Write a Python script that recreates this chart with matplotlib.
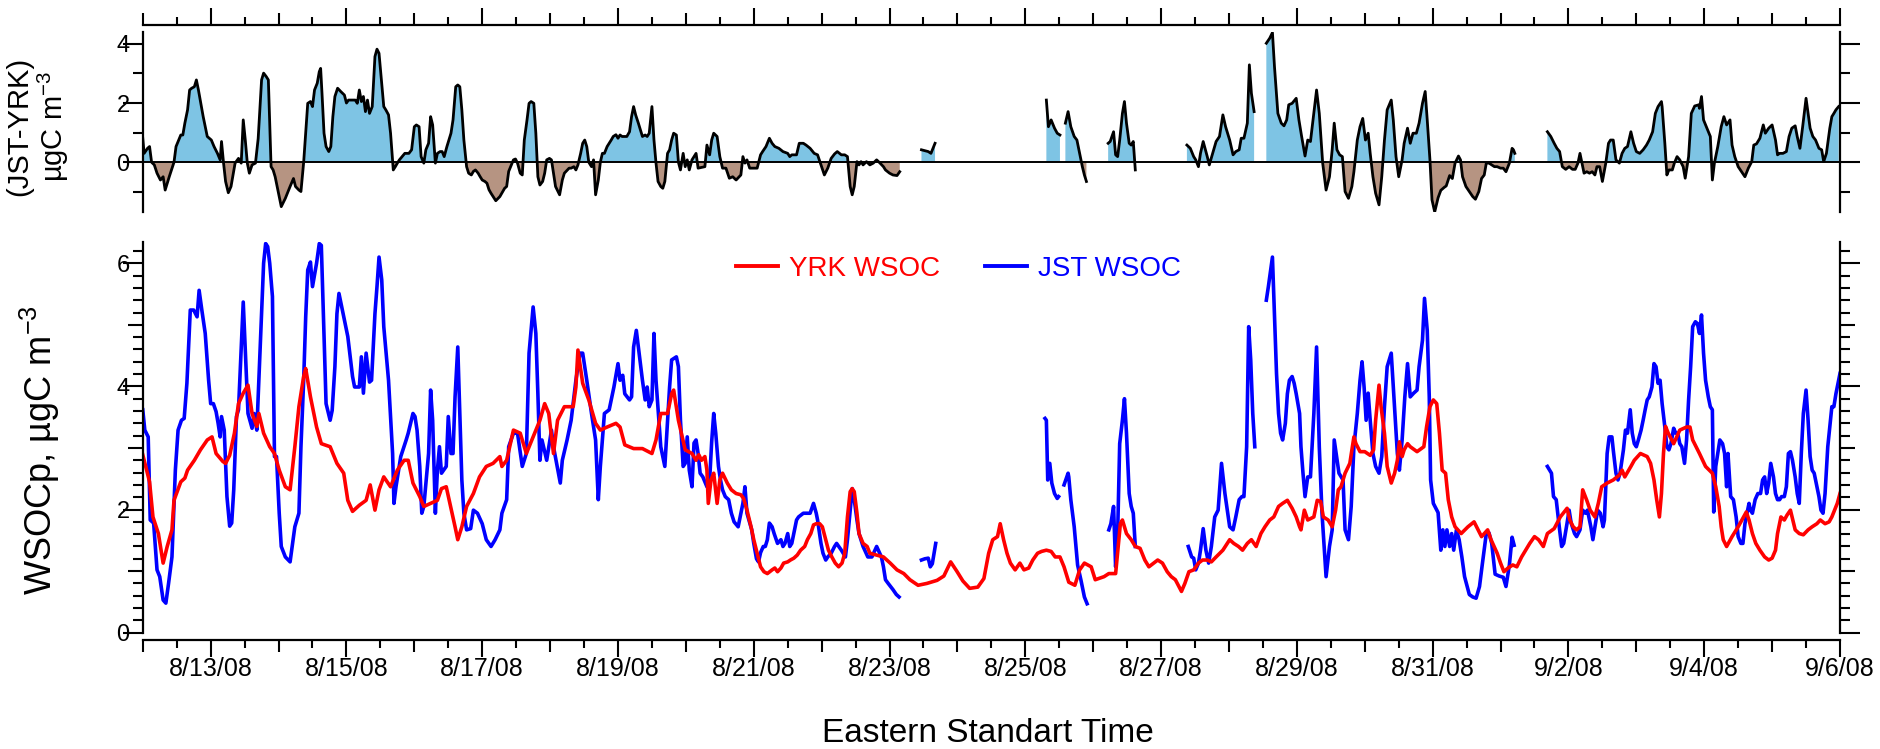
"""
WSOC at YRK and JST, summer 2008, plus the JST-YRK difference
"""

import datetime

import numpy as np
import matplotlib
matplotlib.use("Agg")
import matplotlib.pyplot as plt
import matplotlib.dates as mdates
from matplotlib.ticker import FixedLocator, FuncFormatter
from matplotlib.lines import Line2D

plt.rcParams["font.family"] = ["Liberation Sans", "DejaVu Sans"]
plt.rcParams["mathtext.fontset"] = "custom"
plt.rcParams["mathtext.rm"] = "Liberation Sans"
plt.rcParams["mathtext.default"] = "regular"

START = datetime.datetime(2008, 8, 12)
END = datetime.datetime(2008, 9, 6)
FIRST_LABEL = datetime.datetime(2008, 8, 13)
nan = float("nan")

# (days since 8/12/08 00:00, ugC m-3)
yrk_wsoc = [
    (0.00, 2.89), (0.10, 2.45), (0.15, 1.88), (0.23, 1.61), (0.30, 1.13), (0.36, 1.40), (0.43, 1.67),
    (0.46, 2.15), (0.56, 2.45), (0.62, 2.51), (0.66, 2.64), (0.76, 2.80), (0.85, 2.97), (0.95, 3.13),
    (1.02, 3.18), (1.08, 2.91), (1.18, 2.78), (1.22, 2.75), (1.28, 2.88), (1.35, 3.24), (1.41, 3.72),
    (1.48, 3.89), (1.55, 4.02), (1.61, 3.56), (1.68, 3.35), (1.71, 3.56), (1.78, 3.24), (1.87, 3.02),
    (1.94, 2.91), (2.01, 2.64), (2.10, 2.37), (2.17, 2.32), (2.24, 3.02), (2.30, 3.67), (2.37, 4.16),
    (2.40, 4.29), (2.47, 3.83), (2.56, 3.34), (2.63, 3.07), (2.76, 3.02), (2.86, 2.75), (2.96, 2.59),
    (3.02, 2.15), (3.09, 1.97), (3.19, 2.07), (3.29, 2.15), (3.35, 2.40), (3.42, 1.99), (3.48, 2.32),
    (3.55, 2.53), (3.65, 2.37), (3.75, 2.64), (3.85, 2.80), (3.91, 2.80), (3.98, 2.43), (4.08, 2.21),
    (4.14, 2.05), (4.24, 2.10), (4.34, 2.15), (4.40, 2.34), (4.47, 2.37), (4.54, 2.02), (4.60, 1.72),
    (4.64, 1.51), (4.70, 1.72), (4.77, 2.05), (4.87, 2.26), (4.96, 2.53), (5.06, 2.70), (5.16, 2.75),
    (5.26, 2.86), (5.29, 2.70), (5.36, 2.80), (5.46, 3.29), (5.56, 3.24), (5.65, 2.91), (5.75, 3.18),
    (5.85, 3.45), (5.92, 3.72), (5.98, 3.56), (6.05, 2.91), (6.11, 3.45), (6.21, 3.67), (6.34, 3.67),
    (6.38, 3.99), (6.41, 4.59), (6.48, 4.05), (6.57, 3.78), (6.67, 3.40), (6.74, 3.29), (6.84, 3.34),
    (6.97, 3.40), (7.03, 3.34), (7.10, 3.05), (7.23, 2.99), (7.36, 2.99), (7.50, 2.91), (7.56, 3.13),
    (7.63, 3.56), (7.73, 3.56), (7.79, 3.88), (7.82, 3.94), (7.89, 3.45), (7.99, 2.97), (8.09, 2.91),
    (8.15, 2.80), (8.19, 2.89), (8.23, 2.80), (8.28, 2.86), (8.31, 2.64), (8.33, 2.10), (8.37, 2.48),
    (8.41, 2.59), (8.46, 2.10), (8.50, 2.48), (8.54, 2.59), (8.61, 2.43), (8.67, 2.32), (8.74, 2.26),
    (8.81, 2.24), (8.85, 2.18), (8.90, 1.99), (8.96, 1.72), (9.00, 1.51), (9.05, 1.29), (9.10, 1.07),
    (9.15, 0.99), (9.20, 0.96), (9.27, 1.02), (9.31, 1.05), (9.35, 0.99), (9.40, 1.05), (9.44, 1.13),
    (9.50, 1.15), (9.54, 1.18), (9.59, 1.21), (9.64, 1.26), (9.69, 1.34), (9.75, 1.40), (9.79, 1.51),
    (9.84, 1.61), (9.88, 1.75), (9.92, 1.77), (9.97, 1.77), (10.01, 1.72), (10.06, 1.51), (10.10, 1.34),
    (10.15, 1.23), (10.20, 1.13), (10.25, 1.07), (10.30, 1.13), (10.34, 1.29), (10.38, 1.88), (10.42, 2.29),
    (10.45, 2.34), (10.48, 2.29), (10.52, 1.94), (10.55, 1.61), (10.61, 1.45), (10.67, 1.40), (10.71, 1.29),
    (10.81, 1.26), (10.91, 1.23), (11.01, 1.13), (11.11, 1.02), (11.21, 0.96), (11.30, 0.86), (11.42, 0.77),
    (11.55, 0.80), (11.70, 0.85), (11.80, 0.92), (11.90, 1.15), (11.99, 1.00), (12.08, 0.84), (12.18, 0.72),
    (12.30, 0.74), (12.39, 0.88), (12.46, 1.29), (12.52, 1.51), (12.59, 1.56), (12.63, 1.77), (12.68, 1.51),
    (12.73, 1.29), (12.78, 1.13), (12.85, 1.02), (12.92, 1.13), (12.98, 1.02), (13.05, 1.05), (13.11, 1.18),
    (13.18, 1.29), (13.24, 1.32), (13.31, 1.34), (13.38, 1.32), (13.44, 1.23), (13.51, 1.23), (13.57, 1.07),
    (13.64, 0.82), (13.73, 0.77), (13.80, 1.02), (13.87, 1.13), (13.97, 1.07), (14.03, 0.86), (14.16, 0.91),
    (14.23, 0.96), (14.33, 0.96), (14.36, 1.30), (14.40, 1.77), (14.43, 1.83), (14.49, 1.61), (14.56, 1.51),
    (14.62, 1.40), (14.69, 1.37), (14.76, 1.18), (14.82, 1.07), (14.89, 1.13), (14.95, 1.18), (15.02, 1.13),
    (15.09, 0.99), (15.15, 0.91), (15.21, 0.86), (15.30, 0.67), (15.35, 0.80), (15.41, 0.99), (15.48, 1.02),
    (15.55, 1.13), (15.61, 1.18), (15.68, 1.18), (15.74, 1.15), (15.81, 1.23), (15.91, 1.34), (16.01, 1.51),
    (16.07, 1.45), (16.14, 1.40), (16.20, 1.34), (16.27, 1.45), (16.33, 1.51), (16.40, 1.40), (16.47, 1.61),
    (16.53, 1.72), (16.60, 1.83), (16.66, 1.88), (16.73, 2.05), (16.79, 2.10), (16.86, 2.15), (16.93, 2.02),
    (16.99, 1.88), (17.04, 1.72), (17.06, 1.67), (17.11, 1.99), (17.16, 1.83), (17.25, 1.88), (17.30, 2.15),
    (17.35, 2.13), (17.39, 1.88), (17.46, 1.83), (17.52, 1.72), (17.57, 1.99), (17.61, 2.32), (17.65, 2.37),
    (17.71, 2.59), (17.78, 2.75), (17.84, 3.18), (17.87, 3.07), (17.93, 2.94), (18.00, 2.94), (18.08, 2.88),
    (18.13, 2.97), (18.16, 3.45), (18.21, 4.02), (18.24, 3.67), (18.29, 3.24), (18.33, 2.70), (18.39, 2.43),
    (18.44, 2.59), (18.48, 2.80), (18.51, 3.10), (18.55, 2.86), (18.58, 2.97), (18.63, 3.07), (18.67, 3.02),
    (18.77, 2.94), (18.87, 3.02), (18.91, 3.34), (18.96, 3.67), (19.01, 3.78), (19.06, 3.72), (19.10, 3.24),
    (19.14, 2.64), (19.19, 2.59), (19.23, 2.16), (19.28, 1.88), (19.33, 1.72), (19.42, 1.61), (19.52, 1.72),
    (19.61, 1.80), (19.72, 1.56), (19.81, 1.67), (19.86, 1.51), (19.95, 1.29), (20.00, 1.13), (20.05, 0.99),
    (20.11, 1.05), (20.18, 1.10), (20.24, 1.07), (20.31, 1.23), (20.37, 1.34), (20.43, 1.45), (20.50, 1.56),
    (20.56, 1.51), (20.63, 1.40), (20.69, 1.61), (20.79, 1.69), (20.88, 1.88), (20.98, 2.02), (21.02, 1.83),
    (21.07, 1.72), (21.12, 1.67), (21.17, 1.72), (21.21, 2.32), (21.27, 2.15), (21.32, 1.99), (21.39, 1.88),
    (21.44, 2.10), (21.49, 2.37), (21.57, 2.43), (21.66, 2.48), (21.75, 2.56), (21.79, 2.64), (21.83, 2.53),
    (21.92, 2.70), (21.97, 2.80), (22.06, 2.91), (22.16, 2.86), (22.21, 2.75), (22.26, 2.48), (22.30, 2.16),
    (22.34, 1.88), (22.37, 2.26), (22.40, 2.91), (22.43, 3.35), (22.47, 3.24), (22.55, 3.07), (22.64, 3.29),
    (22.74, 3.34), (22.79, 3.34), (22.83, 3.13), (22.93, 2.91), (23.02, 2.70), (23.12, 2.59), (23.17, 2.37),
    (23.22, 2.05), (23.25, 1.72), (23.28, 1.51), (23.33, 1.40), (23.41, 1.56), (23.50, 1.72), (23.62, 1.96),
    (23.66, 1.83), (23.71, 1.61), (23.76, 1.45), (23.82, 1.34), (23.89, 1.23), (23.95, 1.18), (24.00, 1.21),
    (24.05, 1.34), (24.08, 1.61), (24.13, 1.88), (24.18, 1.83), (24.22, 1.91), (24.27, 1.99), (24.34, 1.67),
    (24.40, 1.61), (24.46, 1.59), (24.53, 1.67), (24.59, 1.72), (24.66, 1.77), (24.71, 1.83), (24.78, 1.77),
    (24.84, 1.80), (24.88, 1.88), (24.92, 1.99), (24.96, 2.10), (25.00, 2.26),
]

# JST has holes in it (nan = no data)
jst_wsoc = [
    (0.00, 3.62), (0.03, 3.29), (0.08, 3.18), (0.11, 1.83), (0.16, 1.78), (0.21, 1.02), (0.25, 0.91),
    (0.30, 0.53), (0.34, 0.48), (0.38, 0.80), (0.43, 1.23), (0.48, 2.64), (0.52, 3.29), (0.57, 3.45),
    (0.61, 3.48), (0.65, 4.05), (0.70, 5.24), (0.75, 5.24), (0.80, 5.13), (0.83, 5.56), (0.87, 5.24),
    (0.92, 4.86), (0.97, 4.10), (1.00, 3.72), (1.04, 3.72), (1.08, 3.59), (1.11, 3.40), (1.14, 3.18),
    (1.16, 3.51), (1.20, 3.29), (1.24, 2.21), (1.28, 1.73), (1.31, 1.78), (1.34, 2.32), (1.38, 3.51),
    (1.41, 3.62), (1.48, 5.37), (1.55, 3.56), (1.61, 3.32), (1.64, 3.56), (1.68, 3.29), (1.71, 4.10),
    (1.78, 6.00), (1.81, 6.32), (1.84, 6.27), (1.87, 6.00), (1.91, 5.46), (1.94, 2.86), (1.97, 2.86),
    (2.01, 1.94), (2.04, 1.40), (2.10, 1.23), (2.17, 1.15), (2.24, 1.72), (2.30, 1.94), (2.33, 3.02),
    (2.37, 4.10), (2.40, 5.13), (2.43, 5.89), (2.47, 6.02), (2.50, 5.62), (2.56, 6.00), (2.60, 6.32),
    (2.63, 6.29), (2.66, 5.18), (2.70, 3.72), (2.76, 3.45), (2.79, 3.61), (2.83, 4.32), (2.86, 5.18),
    (2.89, 5.51), (2.96, 5.13), (3.02, 4.81), (3.09, 4.16), (3.12, 3.99), (3.19, 3.99), (3.22, 4.48),
    (3.25, 3.89), (3.29, 4.54), (3.34, 4.07), (3.37, 4.10), (3.42, 5.18), (3.45, 5.62), (3.48, 6.10),
    (3.52, 5.73), (3.55, 4.97), (3.62, 4.10), (3.68, 2.91), (3.70, 2.10), (3.73, 2.37), (3.80, 2.86),
    (3.88, 3.13), (3.91, 3.24), (3.98, 3.56), (4.01, 3.51), (4.04, 3.29), (4.08, 2.70), (4.11, 1.94),
    (4.14, 2.05), (4.21, 2.91), (4.24, 3.94), (4.27, 3.45), (4.31, 1.94), (4.34, 2.64), (4.37, 3.02),
    (4.40, 2.59), (4.47, 2.70), (4.50, 3.51), (4.54, 2.91), (4.57, 2.91), (4.60, 3.83), (4.64, 4.64),
    (4.67, 3.56), (4.70, 2.48), (4.73, 1.94), (4.77, 1.67), (4.83, 1.69), (4.87, 1.99), (4.93, 1.94),
    (5.00, 1.77), (5.06, 1.51), (5.13, 1.40), (5.19, 1.51), (5.26, 1.67), (5.29, 1.94), (5.36, 2.16),
    (5.39, 3.02), (5.46, 3.24), (5.52, 3.24), (5.59, 2.70), (5.65, 2.91), (5.69, 4.54), (5.75, 5.29),
    (5.79, 4.86), (5.82, 3.88), (5.85, 2.80), (5.88, 3.13), (5.95, 2.80), (6.02, 3.29), (6.05, 3.02),
    (6.15, 2.43), (6.18, 2.80), (6.25, 3.13), (6.31, 3.45), (6.38, 4.10), (6.44, 4.54), (6.48, 4.54),
    (6.54, 4.10), (6.61, 3.56), (6.67, 3.13), (6.71, 2.16), (6.74, 2.70), (6.80, 3.56), (6.87, 3.62),
    (6.94, 3.99), (7.00, 4.37), (7.03, 4.10), (7.07, 4.18), (7.10, 3.88), (7.17, 3.78), (7.20, 3.83),
    (7.23, 4.64), (7.27, 4.91), (7.30, 4.64), (7.36, 4.10), (7.40, 3.78), (7.43, 3.99), (7.46, 3.67),
    (7.50, 3.78), (7.53, 4.86), (7.56, 4.10), (7.63, 3.02), (7.69, 2.70), (7.76, 3.99), (7.79, 4.43),
    (7.86, 4.48), (7.89, 4.32), (7.92, 3.45), (7.96, 2.70), (7.99, 2.75), (8.02, 3.18), (8.05, 2.64),
    (8.09, 2.37), (8.12, 3.08), (8.15, 3.13), (8.18, 2.91), (8.21, 2.59), (8.25, 2.53), (8.31, 2.37),
    (8.35, 2.48), (8.38, 3.10), (8.41, 3.56), (8.44, 3.24), (8.48, 2.70), (8.51, 2.48), (8.54, 2.32),
    (8.58, 2.21), (8.63, 2.16), (8.67, 1.94), (8.71, 1.80), (8.77, 1.72), (8.81, 1.94), (8.84, 2.10),
    (8.87, 2.37), (8.90, 1.94), (8.97, 1.67), (9.00, 1.45), (9.04, 1.20), (9.07, 1.15), (9.10, 1.30),
    (9.14, 1.40), (9.17, 1.40), (9.20, 1.51), (9.23, 1.78), (9.27, 1.72), (9.30, 1.61), (9.35, 1.45),
    (9.40, 1.51), (9.43, 1.40), (9.46, 1.45), (9.50, 1.61), (9.53, 1.40), (9.56, 1.45), (9.63, 1.83),
    (9.66, 1.88), (9.73, 1.94), (9.83, 1.94), (9.88, 2.10), (9.92, 1.94), (9.94, 1.83), (9.99, 1.45),
    (10.02, 1.29), (10.06, 1.18), (10.09, 1.23), (10.14, 1.29), (10.19, 1.40), (10.22, 1.45), (10.29, 1.34),
    (10.35, 1.23), (10.38, 1.51), (10.42, 1.99), (10.45, 2.34), (10.48, 2.16), (10.52, 1.83), (10.55, 1.61),
    (10.61, 1.40), (10.68, 1.23), (10.74, 1.23), (10.81, 1.40), (10.88, 1.23), (10.91, 1.07), (10.94, 0.86),
    (10.98, 0.80), (11.05, 0.70), (11.10, 0.62), (11.14, 0.58),
    (11.30, nan),
    (11.47, 1.18), (11.52, 1.20), (11.57, 1.21), (11.60, 1.07), (11.63, 1.12), (11.68, 1.45),
    (12.50, nan),
    (13.29, 3.48), (13.31, 3.45), (13.33, 2.48), (13.36, 2.75), (13.39, 2.43), (13.43, 2.26), (13.47, 2.18),
    (13.49, 2.21),
    (13.53, nan),
    (13.57, 2.40), (13.63, 2.59), (13.64, 2.53), (13.67, 2.16), (13.72, 1.72), (13.77, 1.10), (13.82, 0.85),
    (13.87, 0.58), (13.91, 0.47),
    (14.05, nan),
    (14.23, 1.67), (14.26, 1.77), (14.30, 2.05), (14.33, 1.07), (14.36, 1.61), (14.39, 3.07), (14.43, 3.45),
    (14.46, 3.80), (14.49, 3.24), (14.53, 2.26), (14.56, 2.05), (14.59, 1.94), (14.62, 1.40),
    (15.00, nan),
    (15.40, 1.40), (15.45, 1.23), (15.48, 1.21), (15.51, 1.02), (15.55, 1.13), (15.58, 1.34), (15.62, 1.69),
    (15.66, 1.34), (15.70, 1.13), (15.74, 1.40), (15.79, 1.88), (15.84, 1.99), (15.89, 2.75), (15.94, 2.26),
    (16.01, 1.72), (16.06, 1.67), (16.10, 1.88), (16.15, 2.16), (16.19, 2.21), (16.22, 2.21), (16.26, 3.02),
    (16.29, 4.97), (16.32, 4.43), (16.35, 3.56), (16.38, 3.02),
    (16.47, nan),
    (16.55, 5.40), (16.58, 5.62), (16.62, 5.94), (16.64, 6.10), (16.66, 5.46), (16.70, 4.21), (16.73, 3.56),
    (16.76, 3.24), (16.79, 3.13), (16.83, 3.40), (16.86, 3.88), (16.89, 4.10), (16.93, 4.16), (16.96, 4.05),
    (16.99, 3.88), (17.04, 3.56), (17.06, 3.02), (17.09, 2.59), (17.12, 2.21), (17.16, 2.53), (17.20, 2.53),
    (17.25, 3.56), (17.29, 4.64), (17.33, 3.02), (17.37, 1.94), (17.43, 0.91), (17.48, 1.40), (17.52, 1.67),
    (17.55, 3.13), (17.62, 2.59), (17.68, 2.48), (17.71, 1.67), (17.76, 1.51), (17.80, 2.05), (17.84, 3.02),
    (17.89, 3.56), (17.93, 4.10), (17.96, 4.40), (17.99, 3.99), (18.02, 3.45), (18.05, 3.89), (18.08, 3.45),
    (18.12, 2.91), (18.16, 2.70), (18.21, 2.59), (18.25, 2.86), (18.29, 3.67), (18.33, 4.32), (18.39, 4.54),
    (18.44, 3.62), (18.48, 2.91), (18.51, 2.64), (18.55, 3.13), (18.59, 3.83), (18.63, 4.37), (18.67, 3.83),
    (18.72, 3.89), (18.77, 3.94), (18.80, 4.32), (18.85, 4.75), (18.88, 5.43), (18.92, 4.91), (18.95, 3.83),
    (18.97, 2.48), (19.01, 2.10), (19.08, 1.95), (19.12, 1.34), (19.15, 1.67), (19.18, 1.40), (19.21, 1.67),
    (19.25, 1.40), (19.28, 1.61), (19.31, 1.34), (19.35, 1.67), (19.39, 1.51), (19.43, 1.23), (19.47, 0.91),
    (19.54, 0.62), (19.59, 0.58), (19.64, 0.56), (19.69, 0.75), (19.73, 1.10), (19.79, 1.61), (19.83, 1.62),
    (19.87, 1.45), (19.92, 0.95), (19.98, 0.92), (20.04, 0.90), (20.08, 0.75), (20.13, 1.10), (20.17, 1.55),
    (20.20, 1.42),
    (20.45, nan),
    (20.69, 2.70), (20.75, 2.59), (20.78, 2.21), (20.82, 2.16), (20.87, 1.67), (20.90, 1.40), (20.93, 1.45),
    (20.98, 1.78), (21.01, 1.99), (21.04, 1.78), (21.09, 1.61), (21.12, 1.56), (21.17, 1.67), (21.21, 1.99),
    (21.25, 1.94), (21.28, 1.99), (21.33, 1.72), (21.36, 1.51), (21.39, 1.72), (21.43, 1.99), (21.47, 1.94),
    (21.51, 1.72), (21.53, 1.83), (21.57, 2.91), (21.60, 3.18), (21.64, 3.18), (21.66, 2.97), (21.70, 2.59),
    (21.73, 2.48), (21.76, 2.59), (21.81, 2.97), (21.84, 3.29), (21.87, 3.24), (21.91, 3.62), (21.94, 3.24),
    (21.97, 3.07), (22.00, 3.02), (22.03, 3.13), (22.07, 3.29), (22.10, 3.45), (22.13, 3.62), (22.16, 3.78),
    (22.19, 3.83), (22.23, 3.99), (22.26, 4.37), (22.29, 4.32), (22.32, 4.05), (22.35, 4.10), (22.38, 3.72),
    (22.42, 3.34), (22.45, 3.02), (22.48, 2.97), (22.51, 3.07), (22.55, 3.32), (22.58, 3.24), (22.61, 3.24),
    (22.64, 3.07), (22.67, 3.02), (22.71, 2.75), (22.74, 3.13), (22.77, 3.78), (22.80, 4.32), (22.83, 4.97),
    (22.87, 5.05), (22.90, 5.02), (22.93, 4.86), (22.96, 5.16), (22.99, 4.54), (23.02, 4.10), (23.06, 3.83),
    (23.09, 3.67), (23.12, 3.62), (23.14, 1.96), (23.17, 2.70), (23.20, 2.91), (23.23, 3.13), (23.27, 3.07),
    (23.30, 2.91), (23.33, 2.37), (23.35, 2.91), (23.39, 2.21), (23.43, 2.16), (23.47, 1.88), (23.50, 1.56),
    (23.54, 1.45), (23.57, 1.45), (23.60, 1.77), (23.63, 1.94), (23.66, 2.10), (23.68, 1.99), (23.71, 1.94),
    (23.75, 2.16), (23.79, 2.26), (23.83, 2.26), (23.86, 2.48), (23.89, 2.53), (23.92, 2.26), (23.95, 2.43),
    (23.98, 2.75), (24.02, 2.53), (24.05, 2.26), (24.08, 2.16), (24.11, 2.16), (24.14, 2.21), (24.18, 2.21),
    (24.21, 2.37), (24.24, 2.91), (24.27, 2.94), (24.30, 2.80), (24.34, 2.53), (24.37, 2.26), (24.40, 2.10),
    (24.43, 2.91), (24.46, 3.56), (24.50, 3.94), (24.53, 3.45), (24.56, 2.86), (24.59, 2.64), (24.62, 2.59),
    (24.66, 2.37), (24.69, 2.21), (24.72, 1.99), (24.75, 1.94), (24.78, 2.26), (24.82, 3.02), (24.85, 3.34),
    (24.88, 3.67), (24.91, 3.67), (24.94, 3.88), (24.98, 4.10), (25.00, 4.21),
]

# JST-YRK as drawn in the upper panel
jst_minus_yrk = [
    (0.00, 0.81), (0.02, 0.30), (0.07, 0.47), (0.10, 0.53), (0.13, 0.00), (0.17, -0.09), (0.21, -0.37),
    (0.26, -0.60), (0.30, -0.49), (0.33, -0.94), (0.39, -0.49), (0.46, 0.00), (0.49, 0.53), (0.53, 0.75),
    (0.56, 0.92), (0.59, 0.92), (0.62, 1.32), (0.66, 1.77), (0.69, 2.44), (0.72, 2.50), (0.76, 2.55),
    (0.79, 2.78), (0.82, 2.44), (0.89, 1.54), (0.95, 0.87), (1.01, 0.75), (1.05, 0.53), (1.10, 0.30),
    (1.14, 0.08), (1.16, 0.70), (1.19, -0.03), (1.22, -0.65), (1.26, -1.03), (1.30, -0.82), (1.36, -0.03),
    (1.41, 0.13), (1.45, -0.03), (1.48, 1.43), (1.51, 0.75), (1.54, -0.03), (1.57, -0.37), (1.61, -0.09),
    (1.66, -0.03), (1.70, 0.80), (1.75, 2.78), (1.78, 3.01), (1.82, 2.89), (1.85, 2.78), (1.89, -0.15),
    (1.92, -0.26), (1.95, -0.49), (2.00, -1.05), (2.04, -1.50), (2.10, -1.22), (2.17, -0.82), (2.22, -0.55),
    (2.25, -0.82), (2.30, -0.94), (2.33, -0.99), (2.37, 0.00), (2.43, 1.99), (2.47, 2.05), (2.50, 1.88),
    (2.53, 2.44), (2.57, 2.67), (2.60, 3.06), (2.62, 3.17), (2.64, 2.33), (2.67, 0.98), (2.70, 0.53),
    (2.74, 0.36), (2.77, 0.53), (2.80, 1.54), (2.83, 2.22), (2.87, 2.50), (2.92, 2.38), (2.97, 2.27),
    (3.00, 2.00), (3.03, 2.10), (3.06, 2.10), (3.13, 2.10), (3.16, 1.99), (3.19, 2.44), (3.22, 2.05),
    (3.25, 2.22), (3.28, 1.71), (3.31, 2.10), (3.34, 1.65), (3.38, 1.88), (3.42, 3.57), (3.45, 3.82),
    (3.48, 3.68), (3.55, 1.88), (3.58, 1.77), (3.62, 1.60), (3.65, 0.98), (3.69, -0.26), (3.72, -0.15),
    (3.75, -0.03), (3.78, 0.08), (3.82, 0.19), (3.86, 0.30), (3.92, 0.30), (3.96, 0.42), (4.00, 1.20),
    (4.03, 1.26), (4.07, 1.20), (4.10, 0.19), (4.14, -0.03), (4.17, 0.42), (4.21, 0.64), (4.24, 1.54),
    (4.27, 1.26), (4.31, -0.03), (4.34, 0.30), (4.38, 0.36), (4.41, 0.36), (4.44, 0.19), (4.48, 0.53),
    (4.51, 0.75), (4.54, 0.98), (4.57, 1.43), (4.61, 2.55), (4.64, 2.61), (4.67, 2.55), (4.70, 1.77),
    (4.73, 0.75), (4.77, -0.15), (4.80, -0.37), (4.84, -0.43), (4.87, -0.31), (4.90, -0.26), (4.94, -0.37),
    (4.97, -0.49), (5.00, -0.60), (5.04, -0.65), (5.07, -0.71), (5.10, -0.93), (5.13, -1.05), (5.20, -1.30),
    (5.26, -1.16), (5.33, -0.88), (5.36, -0.82), (5.39, -0.31), (5.46, 0.08), (5.49, 0.11), (5.52, -0.03),
    (5.56, -0.37), (5.59, -0.43), (5.62, 0.75), (5.66, 1.43), (5.69, 1.99), (5.72, 2.05), (5.76, 1.99),
    (5.79, 0.98), (5.82, -0.49), (5.85, -0.77), (5.89, -0.65), (5.92, -0.37), (5.95, 0.08), (5.99, 0.13),
    (6.02, 0.08), (6.05, -0.37), (6.08, -0.82), (6.14, -1.10), (6.18, -0.60), (6.21, -0.37), (6.28, -0.20),
    (6.31, -0.20), (6.35, -0.15), (6.38, -0.26), (6.41, -0.09), (6.45, 0.30), (6.48, 0.64), (6.51, 0.75),
    (6.54, 0.53), (6.57, 0.00), (6.61, -0.15), (6.64, 0.08), (6.67, -1.10), (6.71, -0.60), (6.74, 0.00),
    (6.77, 0.30), (6.80, 0.30), (6.84, 0.53), (6.90, 0.75), (6.93, 0.87), (6.97, 0.93), (7.00, 0.81),
    (7.03, 0.92), (7.06, 0.87), (7.13, 0.87), (7.17, 1.03), (7.20, 1.54), (7.23, 1.88), (7.26, 1.60),
    (7.30, 1.32), (7.33, 1.09), (7.36, 0.87), (7.40, 0.92), (7.43, 0.87), (7.46, 0.98), (7.50, 1.88),
    (7.53, 0.75), (7.56, -0.03), (7.59, -0.65), (7.63, -0.82), (7.66, -0.88), (7.69, -0.65), (7.73, 0.30),
    (7.76, 0.42), (7.79, 0.75), (7.82, 0.98), (7.86, 0.92), (7.89, 0.00), (7.92, -0.26), (7.96, 0.30),
    (7.99, -0.15), (8.02, 0.08), (8.05, -0.26), (8.09, 0.08), (8.15, 0.30), (8.18, -0.20), (8.28, -0.15),
    (8.31, 0.58), (8.35, 0.25), (8.38, 0.75), (8.41, 0.98), (8.46, 0.87), (8.50, 0.19), (8.54, -0.20),
    (8.59, -0.20), (8.64, -0.54), (8.69, -0.49), (8.74, -0.60), (8.81, -0.43), (8.84, 0.19), (8.87, -0.03),
    (8.90, 0.08), (8.94, -0.20), (9.00, -0.20), (9.05, -0.20), (9.10, 0.25), (9.13, 0.36), (9.18, 0.53),
    (9.23, 0.81), (9.27, 0.64), (9.31, 0.53), (9.37, 0.47), (9.43, 0.36), (9.50, 0.30), (9.53, 0.19),
    (9.56, 0.25), (9.63, 0.25), (9.67, 0.64), (9.73, 0.64), (9.77, 0.58), (9.83, 0.47), (9.89, 0.30),
    (9.94, 0.25), (9.99, -0.09), (10.04, -0.43), (10.09, -0.20), (10.14, 0.13), (10.19, 0.28), (10.23, 0.36),
    (10.29, 0.25), (10.34, 0.25), (10.38, 0.19), (10.42, -0.82), (10.45, -1.10), (10.48, -0.82), (10.52, 0.02),
    (10.55, -0.09), (10.58, 0.02), (10.61, -0.09), (10.66, 0.02), (10.71, -0.09), (10.76, -0.03), (10.81, 0.08),
    (10.86, -0.03), (10.91, -0.15), (10.94, -0.26), (11.00, -0.37), (11.05, -0.43), (11.11, -0.45), (11.15, -0.32),
    (11.30, nan),
    (11.47, 0.42), (11.52, 0.39), (11.57, 0.36), (11.61, 0.30), (11.67, 0.64),
    (12.50, nan),
    (13.31, 2.10), (13.34, 1.20), (13.38, 1.43), (13.43, 1.15), (13.47, 0.98), (13.51, 0.92),
    (13.55, nan),
    (13.59, 1.32), (13.63, 1.71), (13.67, 1.20), (13.72, 0.87), (13.76, 0.75), (13.80, 0.30), (13.84, -0.15),
    (13.87, -0.43), (13.90, -0.65),
    (14.05, nan),
    (14.22, 0.64), (14.25, 0.70), (14.30, 1.03), (14.33, 0.25), (14.36, 0.19), (14.39, 0.75), (14.43, 1.65),
    (14.46, 2.05), (14.49, 1.32), (14.53, 0.64), (14.56, 0.58), (14.59, 0.70), (14.62, -0.26),
    (15.00, nan),
    (15.38, 0.58), (15.43, 0.47), (15.48, 0.19), (15.51, 0.08), (15.55, -0.15), (15.58, 0.30), (15.62, 0.70),
    (15.68, 0.19), (15.71, -0.09), (15.76, 0.30), (15.81, 0.70), (15.86, 0.87), (15.91, 1.60), (15.95, 1.20),
    (16.01, 0.75), (16.06, 0.25), (16.10, 0.36), (16.15, 0.42), (16.18, 0.81), (16.22, 0.81), (16.27, 1.32),
    (16.30, 3.29), (16.33, 2.33), (16.37, 1.71),
    (16.46, nan),
    (16.55, 4.02), (16.60, 4.19), (16.64, 4.38), (16.67, 3.23), (16.72, 1.65), (16.77, 1.32), (16.81, 1.23),
    (16.85, 1.43), (16.88, 1.94), (16.93, 1.99), (16.97, 2.10), (16.99, 2.16), (17.03, 1.43), (17.07, 0.87),
    (17.12, 0.21), (17.16, 0.75), (17.20, 0.70), (17.25, 1.65), (17.29, 2.44), (17.33, 1.65), (17.38, -0.03),
    (17.43, -0.94), (17.48, -0.49), (17.52, 0.42), (17.55, 1.32), (17.59, 0.42), (17.63, 0.25), (17.67, 0.19),
    (17.71, -0.99), (17.76, -1.22), (17.81, -0.82), (17.84, -0.32), (17.89, 0.75), (17.93, 1.20), (17.97, 1.48),
    (18.01, 0.75), (18.05, 0.98), (18.08, 0.30), (18.12, -0.49), (18.16, -1.05), (18.21, -1.44), (18.25, -0.49),
    (18.29, 0.75), (18.33, 1.77), (18.39, 2.10), (18.42, 1.43), (18.46, 0.19), (18.50, -0.49), (18.55, 0.08),
    (18.58, 0.64), (18.63, 1.15), (18.67, 0.64), (18.71, 0.98), (18.76, 0.98), (18.80, 1.32), (18.85, 1.99),
    (18.89, 2.39), (18.92, 1.43), (18.96, 0.08), (18.99, -1.27), (19.03, -1.68), (19.08, -1.20), (19.12, -0.95),
    (19.17, -0.85), (19.20, -0.80), (19.25, -0.45), (19.29, -0.55), (19.33, -0.03), (19.38, 0.21), (19.41, 0.08),
    (19.44, -0.49), (19.49, -0.82), (19.54, -0.99), (19.59, -1.16), (19.63, -1.25), (19.68, -0.99), (19.72, -0.55),
    (19.76, -0.43), (19.79, -0.03), (19.83, -0.03), (19.87, -0.09), (19.91, -0.15), (19.95, -0.15), (20.00, -0.20),
    (20.04, -0.20), (20.08, -0.32), (20.13, -0.03), (20.17, 0.47), (20.19, 0.42), (20.21, 0.30),
    (20.45, nan),
    (20.69, 1.03), (20.74, 0.87), (20.79, 0.64), (20.83, 0.47), (20.87, 0.36), (20.91, -0.15), (20.96, -0.24),
    (21.01, -0.15), (21.06, -0.24), (21.10, -0.24), (21.14, -0.03), (21.17, 0.30), (21.20, -0.03), (21.23, -0.37),
    (21.27, -0.32), (21.31, -0.37), (21.35, -0.32), (21.39, -0.43), (21.42, -0.15), (21.46, -0.15), (21.50, -0.65),
    (21.55, -0.03), (21.59, 0.64), (21.62, 0.75), (21.66, 0.75), (21.70, 0.08), (21.75, -0.03), (21.79, 0.30),
    (21.83, 0.47), (21.87, 0.53), (21.92, 1.03), (21.96, 0.64), (22.00, 0.36), (22.05, 0.30), (22.10, 0.42),
    (22.15, 0.58), (22.19, 0.75), (22.24, 1.03), (22.28, 1.65), (22.32, 1.88), (22.37, 2.05), (22.38, 1.88),
    (22.42, 0.64), (22.45, -0.43), (22.48, -0.26), (22.53, -0.26), (22.56, -0.03), (22.60, 0.19), (22.64, 0.08),
    (22.69, -0.15), (22.72, -0.54), (22.77, 0.19), (22.81, 1.65), (22.86, 1.90), (22.92, 1.94), (22.93, 1.82),
    (22.96, 2.22), (22.99, 1.43), (23.04, 1.15), (23.09, 0.87), (23.12, -0.60), (23.15, -0.03), (23.20, 0.53),
    (23.25, 1.20), (23.29, 1.54), (23.33, 1.26), (23.38, 1.43), (23.41, 0.58), (23.45, 0.19), (23.50, -0.15),
    (23.55, -0.32), (23.60, -0.49), (23.65, -0.20), (23.70, 0.02), (23.73, 0.58), (23.77, 0.62), (23.82, 0.81),
    (23.87, 1.26), (23.90, 0.98), (23.95, 1.15), (24.00, 1.26), (24.05, 0.75), (24.08, 0.25), (24.11, 0.30),
    (24.16, 0.30), (24.21, 0.36), (24.25, 0.87), (24.29, 1.15), (24.34, 1.23), (24.37, 0.87), (24.41, 0.47),
    (24.45, 1.20), (24.50, 2.16), (24.53, 1.65), (24.56, 1.15), (24.60, 0.87), (24.64, 0.75), (24.69, 0.47),
    (24.73, 0.42), (24.76, 0.02), (24.80, 0.30), (24.85, 1.15), (24.88, 1.54), (24.91, 1.65), (24.94, 1.77),
    (24.98, 1.88),
]

RED = "#ff0000"
BLUE = "#0000ff"
POS_FILL = "#7ec4e4"
NEG_FILL = "#b69482"


def to_series(pairs):
    days, vals = np.array(pairs, dtype=float).T
    times = [START + datetime.timedelta(days=float(d)) for d in days]
    return times, vals


def is_label_day(x):
    return round(x - mdates.date2num(FIRST_LABEL)) % 2 == 0


def setup_time_axis(ax, labels):
    days = [START + datetime.timedelta(days=i) for i in range(26)]
    ax.xaxis.set_major_locator(FixedLocator(mdates.date2num(days)))
    ax.xaxis.set_minor_locator(mdates.HourLocator(byhour=[12]))
    if labels:
        def fmt(x, pos):
            if not is_label_day(x):
                return ""
            d = mdates.num2date(x)
            return f"{d.month}/{d.day}/{d:%y}"
        ax.xaxis.set_major_formatter(FuncFormatter(fmt))
    else:
        ax.xaxis.set_major_formatter(FuncFormatter(lambda x, pos: ""))
    ax.set_xlim(START, END)


def size_ticks(axis, big, small, is_big):
    # Igor-style: long ticks where there is a label, shorter in between
    locs = axis.get_majorticklocs()
    for tick, loc in zip(axis.get_major_ticks(len(locs)), locs):
        s = big if is_big(loc) else small
        tick.tick1line.set_markersize(s)
        tick.tick2line.set_markersize(s)


fig = plt.figure(figsize=(18.81, 7.49), dpi=100)
ax1 = fig.add_axes([0.0759, 0.7170, 0.9023, 0.2403])
ax2 = fig.add_axes([0.0759, 0.1553, 0.9023, 0.5220])

# ---- upper panel: difference
t_d, v_d = to_series(jst_minus_yrk)
ax1.fill_between(t_d, v_d, 0, where=v_d >= 0, interpolate=True, color=POS_FILL, lw=0)
ax1.fill_between(t_d, v_d, 0, where=v_d <= 0, interpolate=True, color=NEG_FILL, lw=0)
ax1.axhline(0, color="black", lw=1.4, zorder=2)
ax1.plot(t_d, v_d, color="black", lw=2.0, zorder=3)
ax1.set_ylim(-1.68, 4.40)

# ---- lower panel: WSOC
t_j, v_j = to_series(jst_wsoc)
t_y, v_y = to_series(yrk_wsoc)
ax2.plot(t_j, v_j, color=BLUE, lw=2.6, label="JST WSOC")
ax2.plot(t_y, v_y, color=RED, lw=2.6, label="YRK WSOC")
ax2.set_ylim(0, 6.35)

setup_time_axis(ax1, labels=False)
setup_time_axis(ax2, labels=True)

for ax in (ax1, ax2):
    for s in ax.spines.values():
        s.set_linewidth(1.6)
ax1.spines["bottom"].set_visible(False)
ax1.spines["top"].set_position(("outward", 5))
ax2.spines["top"].set_visible(False)
ax2.spines["bottom"].set_position(("outward", 5))

ax1.xaxis.set_ticks_position("top")
ax1.tick_params(axis="x", which="minor", direction="out", length=6.1, width=1.5)
ax1.tick_params(axis="x", which="major", direction="out", width=1.5, labeltop=False, labelbottom=False)
ax2.xaxis.set_ticks_position("bottom")
ax2.tick_params(axis="x", which="minor", direction="out", length=6.1, width=1.5)
ax2.tick_params(axis="x", which="major", direction="out", width=1.5, labelsize=18, pad=9)

# y axes
ax1.yaxis.set_major_locator(FixedLocator([-1, 0, 1, 2, 3, 4]))
ax2.yaxis.set_major_locator(FixedLocator([0, 1, 2, 3, 4, 5, 6]))
ax2.yaxis.set_minor_locator(FixedLocator([i / 5 for i in range(32) if i % 5]))
int_even = FuncFormatter(lambda y, pos: f"{y:.0f}" if round(y) % 2 == 0 else "")
for ax in (ax1, ax2):
    ax.yaxis.set_major_formatter(int_even)
    ax.tick_params(axis="y", which="both", left=True, right=True, labelright=False,
                   direction="out", width=1.5)
    ax.tick_params(axis="y", which="major", labelsize=17, pad=6)
ax2.tick_params(axis="y", which="minor", length=7.2)

# labels
fig.text(38 / 1881, 1 - 126 / 749, "(JST-YRK)\nµgC m$^{-3}$", rotation=90,
         ha="center", va="center", fontsize=21, multialignment="center", linespacing=1.1)
fig.text(40 / 1881, 1 - 450 / 749, "WSOCp, µgC m$^{-3}$", rotation=90,
         ha="center", va="center", fontsize=26)
fig.text(988 / 1881, 1 - 742 / 749, "Eastern Standart Time",
         ha="center", va="baseline", fontsize=24)

handles = [Line2D([], [], color=RED, lw=2.8), Line2D([], [], color=BLUE, lw=2.8)]
fig.legend(handles, ["YRK WSOC", "JST WSOC"], ncol=2, frameon=False, fontsize=20,
           labelcolor=[RED, BLUE], handlelength=1.5, handletextpad=0.42, columnspacing=1.6,
           borderpad=0, borderaxespad=0, loc="center left",
           bbox_to_anchor=(736 / 1881, 1 - 269 / 749), bbox_transform=fig.transFigure)

# tick lengths at the very end, after everything else touched the ticks
size_ticks(ax1.xaxis, 12.2, 8.6, is_label_day)
size_ticks(ax2.xaxis, 12.2, 8.6, is_label_day)
size_ticks(ax1.yaxis, 14.4, 7.2, lambda y: round(y) % 2 == 0)
size_ticks(ax2.yaxis, 14.4, 10.8, lambda y: round(y) % 2 == 0)

fig.savefig("out.png", dpi=100)
